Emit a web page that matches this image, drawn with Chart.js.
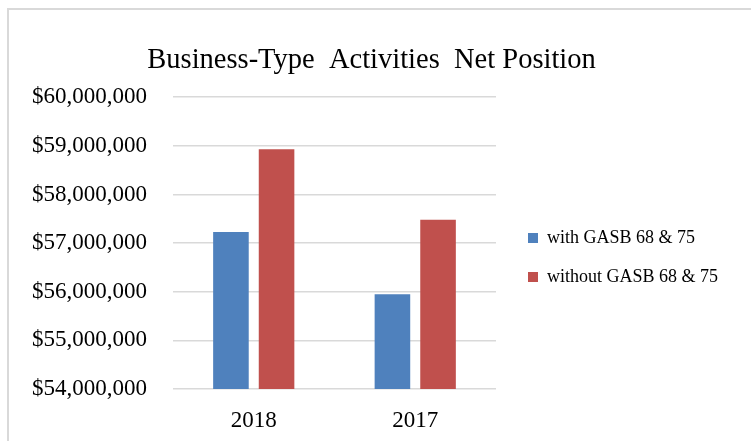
<!DOCTYPE html>
<html>
<head>
<meta charset="utf-8">
<script src="https://cdn.jsdelivr.net/npm/chart.js@4/dist/chart.umd.min.js"></script>
<style>
  html, body { margin: 0; padding: 0; background: #fff; overflow: hidden; }
  #frame {
    position: absolute; left: 7px; top: 8px; width: 900px; height: 600px;
    border-left: 2px solid #d9d9d9; border-top: 2px solid #d9d9d9;
  }
  #wrap { position: absolute; left: 0; top: 0; width: 751px; height: 441px; }
</style>
</head>
<body>
<div id="frame"></div>
<div id="wrap"><canvas id="chart"></canvas></div>
<script>
// --- data ---
const categories = ['2018', '2017'];
const withGasb    = [57230000, 55950000];
const withoutGasb = [58930000, 57480000];
const seriesNames = ['with GASB 68 & 75', 'without GASB 68 & 75'];
const yMin = 54000000, yMax = 60000000, yStep = 1000000;

const serif = '"Liberation Serif", "Times New Roman", serif';
Chart.defaults.font.family = serif;
Chart.defaults.color = '#000';

// nudge legend + title to sit where the Excel original puts them
const nudge = {
  id: 'nudge',
  afterLayout(chart) {
    const lg = chart.legend;
    if (lg) { lg.left += 11; lg.right += 11; lg.top += 37; lg.bottom += 37; }
    const tb = chart.titleBlock;
    if (tb) { tb.left += 13; tb.right += 13; }
  }
};

new Chart(document.getElementById('chart'), {
  type: 'bar',
  data: {
    labels: categories,
    datasets: [
      { label: seriesNames[0], data: withGasb, backgroundColor: '#4f81bd',
        categoryPercentage: 0.565, barPercentage: 0.78 },
      { label: seriesNames[1], data: withoutGasb, backgroundColor: '#c0504d',
        categoryPercentage: 0.565, barPercentage: 0.78 }
    ]
  },
  plugins: [nudge],
  options: {
    responsive: true,
    maintainAspectRatio: false,
    animation: false,
    layout: { padding: { top: 0, bottom: 0, right: 34, left: 0 } },
    plugins: {
      title: {
        display: true,
        text: 'Business-Type  Activities  Net Position',
        font: { size: 28.5, weight: 'normal' },
        color: '#000',
        padding: { top: 43, bottom: 20 }
      },
      legend: {
        position: 'right',
        maxWidth: 300,
        labels: {
          boxWidth: 10, boxHeight: 10, padding: 21,
          font: { size: 18 }, color: '#000'
        }
      },
      tooltip: { enabled: false }
    },
    scales: {
      x: {
        grid: { display: false },
        border: { display: false },
        afterFit: s => { s.height = 52; },
        ticks: { font: { size: 23 }, padding: 10, color: '#000' }
      },
      y: {
        min: yMin, max: yMax,
        border: { display: false },
        grid: { color: '#d9d9d9', lineWidth: 1.5, drawTicks: false },
        afterFit: s => { s.width = 173; },
        ticks: {
          stepSize: yStep, padding: 26, font: { size: 23 }, color: '#000',
          callback: v => '$' + v.toLocaleString('en-US')
        }
      }
    }
  }
});
</script>
</body>
</html>
